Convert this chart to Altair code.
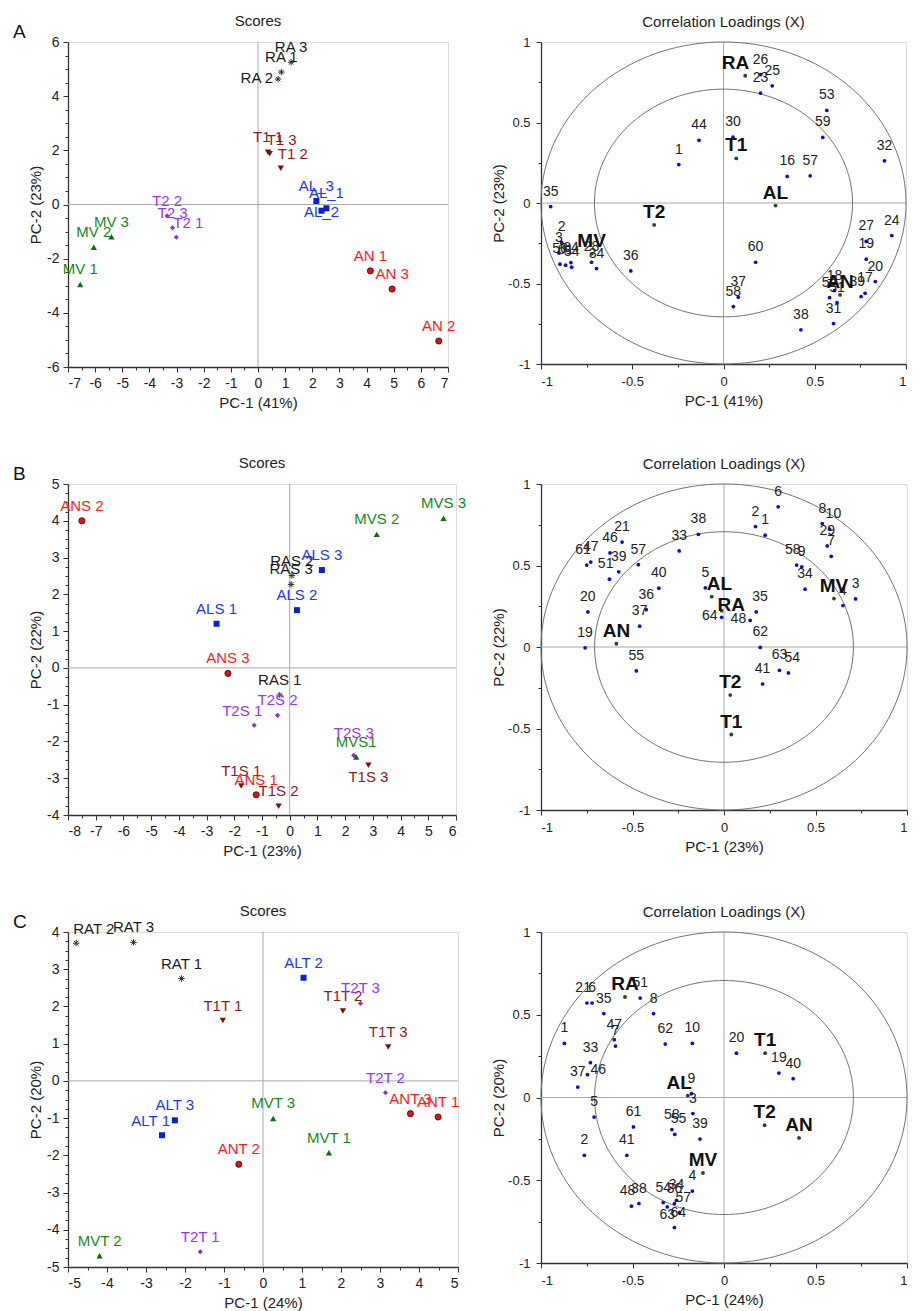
import altair as alt
import numpy as np
import pandas as pd

FONT = "Liberation Sans"

# ---------------- Panel A : scores ----------------
a_sc_label = ["RA 1", "RA 2", "RA 3", "T1 1", "T1 2", "T1 3", "AL_1", "AL_2", "AL_3",
              "T2 1", "T2 2", "T2 3", "MV 1", "MV 2", "MV 3", "AN 1", "AN 2", "AN 3"]
a_sc_x = [0.86, 0.74, 1.22, 0.37, 0.84, 0.43, 2.52, 2.34, 2.15,
          -3.01, -3.35, -3.15, -6.55, -6.05, -5.40, 4.14, 6.66, 4.94]
a_sc_y = [4.89, 4.63, 5.25, 1.93, 1.34, 1.87, -0.14, -0.23, 0.13,
          -1.21, -0.42, -0.86, -2.95, -1.58, -1.19, -2.45, -5.04, -3.12]
a_sc_anchor = ["N", "W", "N", "N", "NE", "NE", "N", "C", "N",
               "NE", "N", "N", "N", "N", "N", "N", "N", "N"]

# ---------------- Panel A : loadings ----------------
a_ld_label = ["26", "25", "23", "53", "59", "44", "30", "1", "32", "16",
              "57", "35", "2", "3", "56", "61", "64", "54", "28", "34",
              "36", "60", "37", "58", "38", "31", "24", "27", "19", "20",
              "17", "39", "18", "52", "51"]
a_ld_x = [0.203, 0.267, 0.203, 0.566, 0.544, -0.134, 0.052, -0.245, 0.882, 0.349,
          0.475, -0.947, -0.887, -0.902, -0.896, -0.865, -0.836, -0.832, -0.723, -0.696,
          -0.508, 0.176, 0.081, 0.054, 0.424, 0.603, 0.922, 0.782, 0.782, 0.832,
          0.776, 0.754, 0.608, 0.581, 0.622]
a_ld_y = [0.797, 0.728, 0.683, 0.575, 0.407, 0.389, 0.409, 0.239, 0.262, 0.165,
          0.169, -0.022, -0.245, -0.311, -0.380, -0.386, -0.370, -0.399, -0.368, -0.407,
          -0.422, -0.368, -0.585, -0.643, -0.788, -0.749, -0.202, -0.239, -0.349, -0.488,
          -0.561, -0.581, -0.544, -0.588, -0.619]
a_ld_anchor = ["N"] * 31 + ["NW", "N", "N", "N"]
a_grp_x = [0.119, 0.070, 0.285, -0.380, -0.723, 0.639]
a_grp_y = [0.790, 0.277, -0.016, -0.136, -0.316, -0.571]
a_grp_anchor = ["NW", "N", "N", "N", "N", "N"]

# ---------------- Panel B : scores ----------------
b_sc_label = ["RAS 1", "RAS 2", "RAS 3", "T1S 1", "T1S 2", "T1S 3", "ALS 1", "ALS 2", "ALS 3",
              "T2S 1", "T2S 2", "T2S 3", "MVS1", "MVS 2", "MVS 3", "ANS 1", "ANS 2", "ANS 3"]
b_sc_x = [-0.36, 0.08, 0.05, -1.75, -0.40, 2.84, -2.64, 0.26, 1.16,
          -1.28, -0.44, 2.31, 2.40, 3.14, 5.55, -1.21, -7.50, -2.23]
b_sc_y = [-0.74, 2.51, 2.27, -3.21, -3.76, -2.65, 1.20, 1.57, 2.66,
          -1.56, -1.29, -2.38, -2.42, 3.63, 4.07, -3.45, 4.00, -0.15]
b_sc_anchor = ["N", "N", "N", "N", "N", "S", "N", "N", "N",
               "NW", "N", "N2", "N", "N", "N", "N", "N", "N"]

# ---------------- Panel B : loadings ----------------
b_ld_label = ["6", "2", "1", "8", "10", "29", "7", "58", "9", "34",
              "3", "4", "38", "33", "21", "46", "47", "61", "57", "39",
              "51", "40", "36", "37", "20", "19", "55", "5", "64", "35",
              "48", "62", "63", "54", "41"]
b_ld_x = [0.296, 0.172, 0.225, 0.537, 0.577, 0.564, 0.586, 0.397, 0.425, 0.443,
          0.719, 0.650, -0.140, -0.245, -0.557, -0.623, -0.728, -0.750, -0.468, -0.575,
          -0.626, -0.356, -0.425, -0.461, -0.744, -0.759, -0.479, -0.102, -0.013, 0.176,
          0.143, 0.198, 0.303, 0.352, 0.211]
b_ld_y = [0.860, 0.739, 0.686, 0.757, 0.723, 0.620, 0.556, 0.503, 0.492, 0.355,
          0.295, 0.254, 0.691, 0.589, 0.644, 0.577, 0.521, 0.503, 0.505, 0.461,
          0.416, 0.361, 0.229, 0.128, 0.215, -0.005, -0.147, 0.363, 0.182, 0.215,
          0.163, -0.003, -0.143, -0.159, -0.227]
b_ld_anchor = ["N", "N", "N", "N", "NE", "N", "NE", "NW", "NE", "N",
               "N", "N", "N", "N", "N", "N", "N", "NW", "N", "N",
               "NW", "N", "N", "N", "N", "N", "N", "NW", "W", "NE",
               "W", "N", "N", "NE", "N"]
b_grp_x = [-0.013, 0.040, -0.067, 0.034, 0.601, -0.588]
b_grp_y = [0.223, -0.537, 0.309, -0.295, 0.297, 0.020]
b_grp_anchor = ["E", "N", "NE", "N", "N", "N"]

# ---------------- Panel C : scores ----------------
c_sc_label = ["RAT 1", "RAT 2", "RAT 3", "T1T 1", "T1T 2", "T1T 3", "ALT 1", "ALT 2", "ALT 3",
              "T2T 1", "T2T 2", "T2T 3", "MVT 1", "MVT 2", "MVT 3", "ANT 1", "ANT 2", "ANT 3"]
c_sc_x = [-2.09, -4.79, -3.32, -1.03, 2.05, 3.21, -2.59, 1.04, -2.26,
          -1.61, 3.14, 2.50, 1.69, -4.19, 0.26, 4.49, -0.62, 3.78]
c_sc_y = [2.75, 3.70, 3.72, 1.62, 1.88, 0.91, -1.46, 2.77, -1.06,
          -4.59, -0.32, 2.08, -1.93, -4.70, -1.01, -0.97, -2.24, -0.88]
c_sc_anchor = ["N", "NE", "N", "N", "N", "N", "NW", "N", "N",
               "N", "N", "N", "N", "N", "N", "N", "N", "N"]

# ---------------- Panel C : loadings ----------------
c_ld_label = ["51", "8", "21", "6", "35", "1", "47", "7", "62", "10",
              "33", "46", "37", "5", "2", "61", "41", "9", "3", "58",
              "55", "39", "4", "34", "36", "54", "63", "57", "64", "38",
              "48", "20", "19", "40"]
c_ld_x = [-0.458, -0.385, -0.749, -0.721, -0.657, -0.872, -0.600, -0.593, -0.321, -0.173,
          -0.730, -0.746, -0.799, -0.710, -0.763, -0.495, -0.531, -0.178, -0.170, -0.285,
          -0.269, -0.131, -0.173, -0.260, -0.271, -0.332, -0.310, -0.243, -0.271, -0.465,
          -0.506, 0.068, 0.300, 0.378]
c_ld_y = [0.601, 0.507, 0.571, 0.571, 0.507, 0.327, 0.349, 0.311, 0.323, 0.327,
          0.210, 0.138, 0.063, -0.118, -0.349, -0.178, -0.349, 0.023, -0.097, -0.194,
          -0.223, -0.251, -0.565, -0.621, -0.641, -0.635, -0.661, -0.696, -0.786, -0.641,
          -0.657, 0.268, 0.148, 0.114]
c_ld_anchor = ["N", "N", "NW", "N", "N", "N", "N", "NE", "N", "N",
               "N", "E", "N", "N", "N", "N", "N", "N", "NE", "N",
               "NE", "N", "N", "N", "N", "N", "S", "NE", "NE", "N",
               "NW", "N", "N", "N"]
c_grp_x = [-0.541, 0.225, -0.198, 0.222, -0.115, 0.410]
c_grp_y = [0.607, 0.268, 0.011, -0.168, -0.456, -0.244]
c_grp_anchor = ["N", "N", "NW", "N", "N", "N"]

GROUPS = ["RA", "T1", "AL", "T2", "MV", "AN"]
LABEL_COLORS = ["#1a1a1a", "#8e1b1b", "#1a37ff", "#9a33ff", "#17881a", "#ff1a1a"]

ASTER = "M-1,0L1,0M0,-1L0,1M-0.7,-0.7L0.7,0.7M-0.7,0.7L0.7,-0.7"
MARKERS = {
    "RA": dict(shape=ASTER, filled=False, stroke="#333333", strokeWidth=1, size=42, opacity=1),
    "T1": dict(shape="triangle-down", filled=True, fill="#7d0f0f", size=40, opacity=1),
    "AL": dict(shape="square", filled=True, fill="#0b1fcc", size=36, opacity=1),
    "T2": dict(shape="diamond", filled=True, fill="#8b2be2", size=26, opacity=1),
    "MV": dict(shape="triangle-up", filled=True, fill="#0c6f0c", size=40, opacity=1),
    "AN": dict(shape="circle", filled=True, fill="#d81414", stroke="#4d0000",
               strokeWidth=0.8, size=38, opacity=1),
}

SC_ANCH = {"N": ("center", 0, -10), "N2": ("center", 0, -17), "NE": ("left", -3, -9),
           "NW": ("right", 8, -9), "W": ("right", -5, 4), "C": ("center", 0, 6),
           "S": ("center", 0, 17)}
LD_NUM = {"N": ("center", 0, -11), "NE": ("left", -4, -11), "NW": ("right", 4, -11),
          "E": ("left", 3, -1), "W": ("right", -4, 3), "S": ("center", 0, 12)}
LD_GRP = {"N": ("center", 0, -7), "NE": ("left", -5, -7), "NW": ("right", 4, -7),
          "E": ("left", -4, 0)}


def make_axis(lo, hi, minor, major, title, label_pad, title_pad, label_size):
    n = int(round((hi - lo) / minor))
    vals = [round(lo + i * minor, 4) for i in range(n + 1)]
    test = f"abs(datum.value / {major} - round(datum.value / {major})) < 0.001"
    return alt.Axis(
        values=vals, title=title, grid=False, labelOverlap=False,
        labelExpr=f"({test}) ? '' + datum.value : ''",
        tickSize={"condition": {"test": test, "value": 5}, "value": 3},
        labelFont=FONT, labelFontSize=label_size, labelColor="#222222", labelPadding=label_pad,
        titleFont=FONT, titleFontSize=15, titleFontWeight="normal", titleColor="#222222",
        titlePadding=title_pad,
        domainColor="#333333", domainWidth=1.3, tickColor="#333333", tickWidth=1,
    )


def encs(xdom, ydom, xminor, xmajor, yminor, ymajor, xtitle, ytitle, lpad, lsize, ytpad):
    X = alt.X("x:Q", scale=alt.Scale(domain=xdom, nice=False, zero=False),
              axis=make_axis(xdom[0], xdom[1], xminor, xmajor, xtitle, lpad, 5, lsize))
    Y = alt.Y("y:Q", scale=alt.Scale(domain=ydom, nice=False, zero=False),
              axis=make_axis(ydom[0], ydom[1], yminor, ymajor, ytitle, lpad, ytpad, lsize))
    return X, Y


def zero_lines(X, Y):
    z = alt.Chart(pd.DataFrame({"x": [0.0], "y": [0.0]}))
    return [z.mark_rule(color="#a8a8a8", strokeWidth=1).encode(x=X),
            z.mark_rule(color="#a8a8a8", strokeWidth=1).encode(y=Y)]


def title_params(text, dy):
    return alt.TitleParams(text=text, font=FONT, fontSize=15, fontWeight="normal",
                           color="#222222", offset=12, dy=dy, frame="group", anchor="middle")


def scores_panel(letter, labels, xs, ys, anchors, xdom, ydom, xminor, xmajor,
                 yminor, ymajor, xtitle, ytitle, w, h):
    df = pd.DataFrame({"x": xs, "y": ys, "label": labels, "anchor": anchors})
    df["group"] = df["label"].str[:2]
    X, Y = encs(xdom, ydom, xminor, xmajor, yminor, ymajor, xtitle, ytitle, 4, 14, 3)
    layers = zero_lines(X, Y)
    for g in GROUPS:
        sub = df[df["group"] == g]
        layers.append(alt.Chart(sub).mark_point(**MARKERS[g]).encode(x=X, y=Y))
    for anc, (align, dx, dy) in SC_ANCH.items():
        sub = df[df["anchor"] == anc]
        if len(sub) == 0:
            continue
        layers.append(
            alt.Chart(sub).mark_text(font=FONT, fontSize=15, align=align,
                                     baseline="alphabetic", dx=dx, dy=dy).encode(
                x=X, y=Y, text="label:N",
                color=alt.Color("group:N", scale=alt.Scale(domain=GROUPS, range=LABEL_COLORS),
                                legend=None)))
    layers.append(
        alt.Chart(pd.DataFrame({"t": [letter]})).mark_text(
            font=FONT, fontSize=19, align="left", baseline="alphabetic", color="#111111"
        ).encode(x=alt.value(-55), y=alt.value(-4), text="t:N"))
    return alt.layer(*layers).properties(width=w, height=h, title=title_params("Scores", 18))


def loadings_panel(labels, xs, ys, anchors, gx, gy, ganchors, xtitle, ytitle, w, h):
    df = pd.DataFrame({"x": xs, "y": ys, "label": labels, "anchor": anchors})
    gdf = pd.DataFrame({"x": gx, "y": gy, "label": GROUPS, "anchor": ganchors})
    X, Y = encs([-1, 1], [-1, 1], 0.25, 0.5, 0.25, 0.5, xtitle, ytitle, 6, 13, 1)
    theta = np.linspace(0, 2 * np.pi, 361)
    parts = []
    for r in (1.0, float(np.sqrt(0.5))):
        parts.append(pd.DataFrame({"x": r * np.cos(theta), "y": r * np.sin(theta),
                                   "r": str(r), "i": np.arange(len(theta))}))
    circ = pd.concat(parts, ignore_index=True)
    layers = zero_lines(X, Y)
    layers.append(alt.Chart(circ).mark_line(color="#707070", strokeWidth=1).encode(
        x=X, y=Y, detail="r:N", order="i:Q"))
    layers.append(alt.Chart(df).mark_circle(size=14, color="#0c0cd6", opacity=1).encode(x=X, y=Y))
    layers.append(alt.Chart(gdf).mark_circle(size=15, color="#1f4f1f", opacity=1).encode(x=X, y=Y))
    for anc, (align, dx, dy) in LD_NUM.items():
        sub = df[df["anchor"] == anc]
        if len(sub) == 0:
            continue
        layers.append(alt.Chart(sub).mark_text(
            font=FONT, fontSize=14, align=align, baseline="alphabetic", dx=dx, dy=dy,
            color="#222222").encode(x=X, y=Y, text="label:N"))
    for anc, (align, dx, dy) in LD_GRP.items():
        sub = gdf[gdf["anchor"] == anc]
        if len(sub) == 0:
            continue
        layers.append(alt.Chart(sub).mark_text(
            font=FONT, fontSize=19, fontWeight="bold", align=align, baseline="alphabetic",
            dx=dx, dy=dy, color="#111111").encode(x=X, y=Y, text="label:N"))
    return alt.layer(*layers).properties(width=w, height=h,
                                         title=title_params("Correlation Loadings (X)", 6))


pA1 = scores_panel("A", a_sc_label, a_sc_x, a_sc_y, a_sc_anchor, [-7, 7], [-6, 6],
                   0.5, 1, 0.5, 2, "PC-1 (41%)", "PC-2 (23%)", 380, 325)
pA2 = loadings_panel(a_ld_label, a_ld_x, a_ld_y, a_ld_anchor, a_grp_x, a_grp_y, a_grp_anchor,
                     "PC-1 (41%)", "PC-2 (23%)", 365, 322)
pB1 = scores_panel("B", b_sc_label, b_sc_x, b_sc_y, b_sc_anchor, [-8, 6], [-4, 5],
                   0.5, 1, 0.25, 1, "PC-1 (23%)", "PC-2 (22%)", 388, 331)
pB2 = loadings_panel(b_ld_label, b_ld_x, b_ld_y, b_ld_anchor, b_grp_x, b_grp_y, b_grp_anchor,
                     "PC-1 (23%)", "PC-2 (22%)", 366, 326)
pC1 = scores_panel("C", c_sc_label, c_sc_x, c_sc_y, c_sc_anchor, [-5, 5], [-5, 4],
                   0.5, 1, 0.25, 1, "PC-1 (24%)", "PC-2 (20%)", 390, 335)
pC2 = loadings_panel(c_ld_label, c_ld_x, c_ld_y, c_ld_anchor, c_grp_x, c_grp_y, c_grp_anchor,
                     "PC-1 (24%)", "PC-2 (20%)", 366, 331)

chart = alt.concat(
    pA1, pA2, pB1, pB2, pC1, pC2,
    columns=2,
    spacing=alt.RowColnumber(row=117, column=83),
    bounds="flush",
    align="none",
).properties(
    padding={"left": 4, "top": 5, "right": 0, "bottom": 0},
    background="white",
).configure_view(stroke="transparent").configure(font=FONT)

chart.save("out.html", embed_options={"renderer": "svg", "actions": False})
